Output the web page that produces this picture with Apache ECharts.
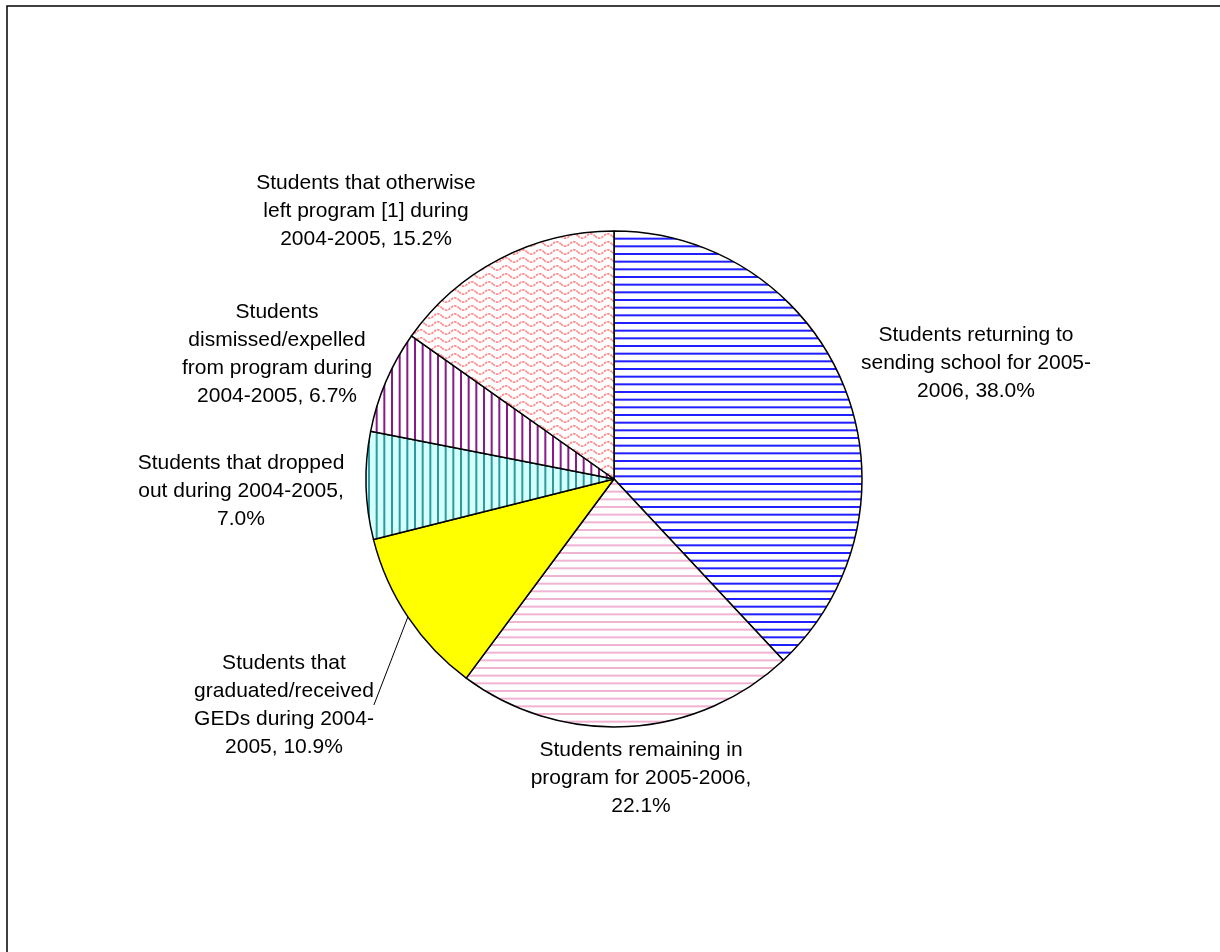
<!DOCTYPE html>
<html>
<head>
<meta charset="utf-8">
<script src="https://cdn.jsdelivr.net/npm/echarts@6/dist/echarts.min.js"></script>
<style>
html,body{margin:0;padding:0;background:#fff;}
#chart{width:1220px;height:952px;}
</style>
</head>
<body>
<div id="chart"></div>
<script>
// Data
var categories = [
  'Students returning to\nsending school for 2005-\n2006',
  'Students remaining in\nprogram for 2005-2006',
  'Students that\ngraduated/received\nGEDs during 2004-\n2005',
  'Students that dropped\nout during 2004-2005',
  'Students\ndismissed/expelled\nfrom program during\n2004-2005',
  'Students that otherwise\nleft program [1] during\n2004-2005'
];
var values = [38.0, 22.1, 10.9, 7.0, 6.7, 15.2];
var breakBeforeValue = [false, true, false, true, false, false];

function linePattern(bg, fg, vertical, thick) {
  var n = 3, size = 23;
  var c = document.createElement('canvas');
  c.width = size; c.height = size;
  var ctx = c.getContext('2d');
  ctx.fillStyle = bg; ctx.fillRect(0, 0, size, size);
  ctx.fillStyle = fg;
  for (var i = 0; i < n; i++) {
    var p = i * size / n;
    if (vertical) ctx.fillRect(p, 0, thick, size);
    else ctx.fillRect(0, p, size, thick);
  }
  return c;
}
function wavePattern() {
  var w = 17, h = 8;
  var c = document.createElement('canvas');
  c.width = w; c.height = h;
  var ctx = c.getContext('2d');
  ctx.fillStyle = '#fff'; ctx.fillRect(0, 0, w, h);
  ctx.strokeStyle = 'rgba(255,120,120,0.85)';
  ctx.lineWidth = 1.8;
  ctx.setLineDash([2.5, 1]);
  ctx.beginPath();
  for (var x = 0; x <= w; x += 0.5) {
    var y = 4 + 2.2 * Math.sin(x / w * Math.PI * 2);
    if (x === 0) ctx.moveTo(x, y); else ctx.lineTo(x, y);
  }
  ctx.stroke();
  return c;
}

var fills = [
  {image: linePattern('#ffffff', '#2020ff', false, 2), repeat: 'repeat'},
  {image: linePattern('#ffffff', '#f0b4d2', false, 2), repeat: 'repeat'},
  '#ffff00',
  {image: linePattern('#d4ffff', '#2f9a9a', true, 2), repeat: 'repeat'},
  {image: linePattern('#ffffff', '#8a1a8a', true, 2), repeat: 'repeat'},
  {image: wavePattern(), repeat: 'repeat'}
];

var labelPos = [
  [976, 363], [641, 778], [284, 705], [241, 491], [277, 354], [366, 211]
];

var chart = echarts.init(document.getElementById('chart'), null, {renderer: 'canvas'});
chart.setOption({
  animation: false,
  backgroundColor: '#fff',
  graphic: [{
    type: 'rect',
    shape: {x: 7, y: 6, width: 1240, height: 980},
    style: {fill: 'none', stroke: '#000', lineWidth: 1.5},
    silent: true, z: -1
  }],
  series: [{
    type: 'pie',
    center: [614, 479],
    radius: 248,
    startAngle: 90,
    clockwise: true,
    avoidLabelOverlap: false,
    itemStyle: {borderColor: '#000', borderWidth: 1.5},
    emphasis: {disabled: true},
    label: {
      show: true,
      position: 'outside',
      color: '#000',
      fontFamily: 'Liberation Sans, Arial, sans-serif',
      fontSize: 21,
      lineHeight: 28,
      align: 'center',
      formatter: function (p) {
        var sep = breakBeforeValue[p.dataIndex] ? ',\n' : ', ';
        return p.name + sep + values[p.dataIndex].toFixed(1) + '%';
      }
    },
    labelLine: {show: false},
    labelLayout: function (params) {
      var pos = labelPos[params.dataIndex];
      return {x: pos[0], y: pos[1], align: 'center', verticalAlign: 'middle'};
    },
    data: categories.map(function (name, i) {
      var d = {name: name, value: values[i], itemStyle: {color: fills[i]}};
      if (i === 2) d.labelLine = {show: true, length: 30, length2: 0, lineStyle: {color: '#000', width: 1}};
      return d;
    })
  }]
});
</script>
</body>
</html>
